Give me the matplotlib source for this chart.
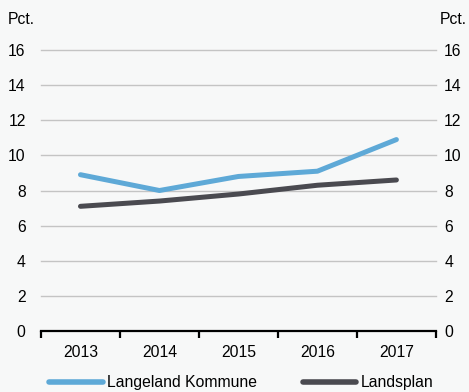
import numpy as np
import matplotlib.pyplot as plt

# data
years = ['2013', '2014', '2015', '2016', '2017']
langeland = [8.9, 8.0, 8.8, 9.1, 10.9]
landsplan = [7.1, 7.4, 7.8, 8.3, 8.6]
yticks = [0, 2, 4, 6, 8, 10, 12, 14, 16]

bg = '#f7f8f8'
blue = '#5ea9d7'
dark = '#4a4a50'
fs = 11.3

plt.rcParams['font.family'] = ['Liberation Sans', 'DejaVu Sans']

fig = plt.figure(figsize=(4.69, 3.92), dpi=100, facecolor=bg)
ax = fig.add_axes([0.0874, 0.1556, 0.842, 0.7168], facecolor=bg)

x = np.arange(len(years))
ax.plot(x, langeland, color=blue, lw=3.6, solid_capstyle='round', label='Langeland Kommune', zorder=3)
ax.plot(x, landsplan, color=dark, lw=3.6, solid_capstyle='round', label='Landsplan', zorder=3)

ax.set_xlim(-0.5, len(years) - 0.5)
ax.set_ylim(0, 16)

# gridlines
for y in yticks[1:]:
    ax.axhline(y, color='#c4c4c4', lw=1.0, zorder=1, clip_on=False)

for s in ['top', 'left', 'right']:
    ax.spines[s].set_visible(False)
ax.spines['bottom'].set_linewidth(1.6)
ax.spines['bottom'].set_color('black')

ax.set_xticks(x)
ax.set_xticklabels(years, fontsize=fs)
ax.set_xticks(np.arange(-0.5, len(years)), minor=True)
ax.tick_params(axis='x', which='major', length=0, pad=10)
ax.tick_params(axis='x', which='minor', length=5, width=1.6, direction='out', color='black')

ax.set_yticks(yticks)
ax.set_yticklabels([str(v) for v in yticks], fontsize=fs)
ax.tick_params(axis='y', length=0, pad=11, labelleft=True, labelright=False)

# right-hand duplicate axis
ax2 = ax.twinx()
ax2.set_ylim(0, 16)
ax2.set_yticks(yticks)
ax2.set_yticklabels([str(v) for v in yticks], fontsize=fs)
ax2.tick_params(axis='y', length=0, pad=6)
for s in ax2.spines.values():
    s.set_visible(False)

fig.text(8 / 469, 1 - 20 / 392, 'Pct.', fontsize=fs, ha='left', va='center')
fig.text(467 / 469, 1 - 20 / 392, 'Pct.', fontsize=fs, ha='right', va='center')

leg = fig.legend(loc='center', bbox_to_anchor=(0.515, 1 - 383 / 392), ncol=2,
                 frameon=False, fontsize=fs, handlelength=3.4, handletextpad=0.3,
                 columnspacing=2.9)
for line in leg.get_lines():
    line.set_linewidth(4)

fig.savefig('out.png', dpi=100, facecolor=bg)
